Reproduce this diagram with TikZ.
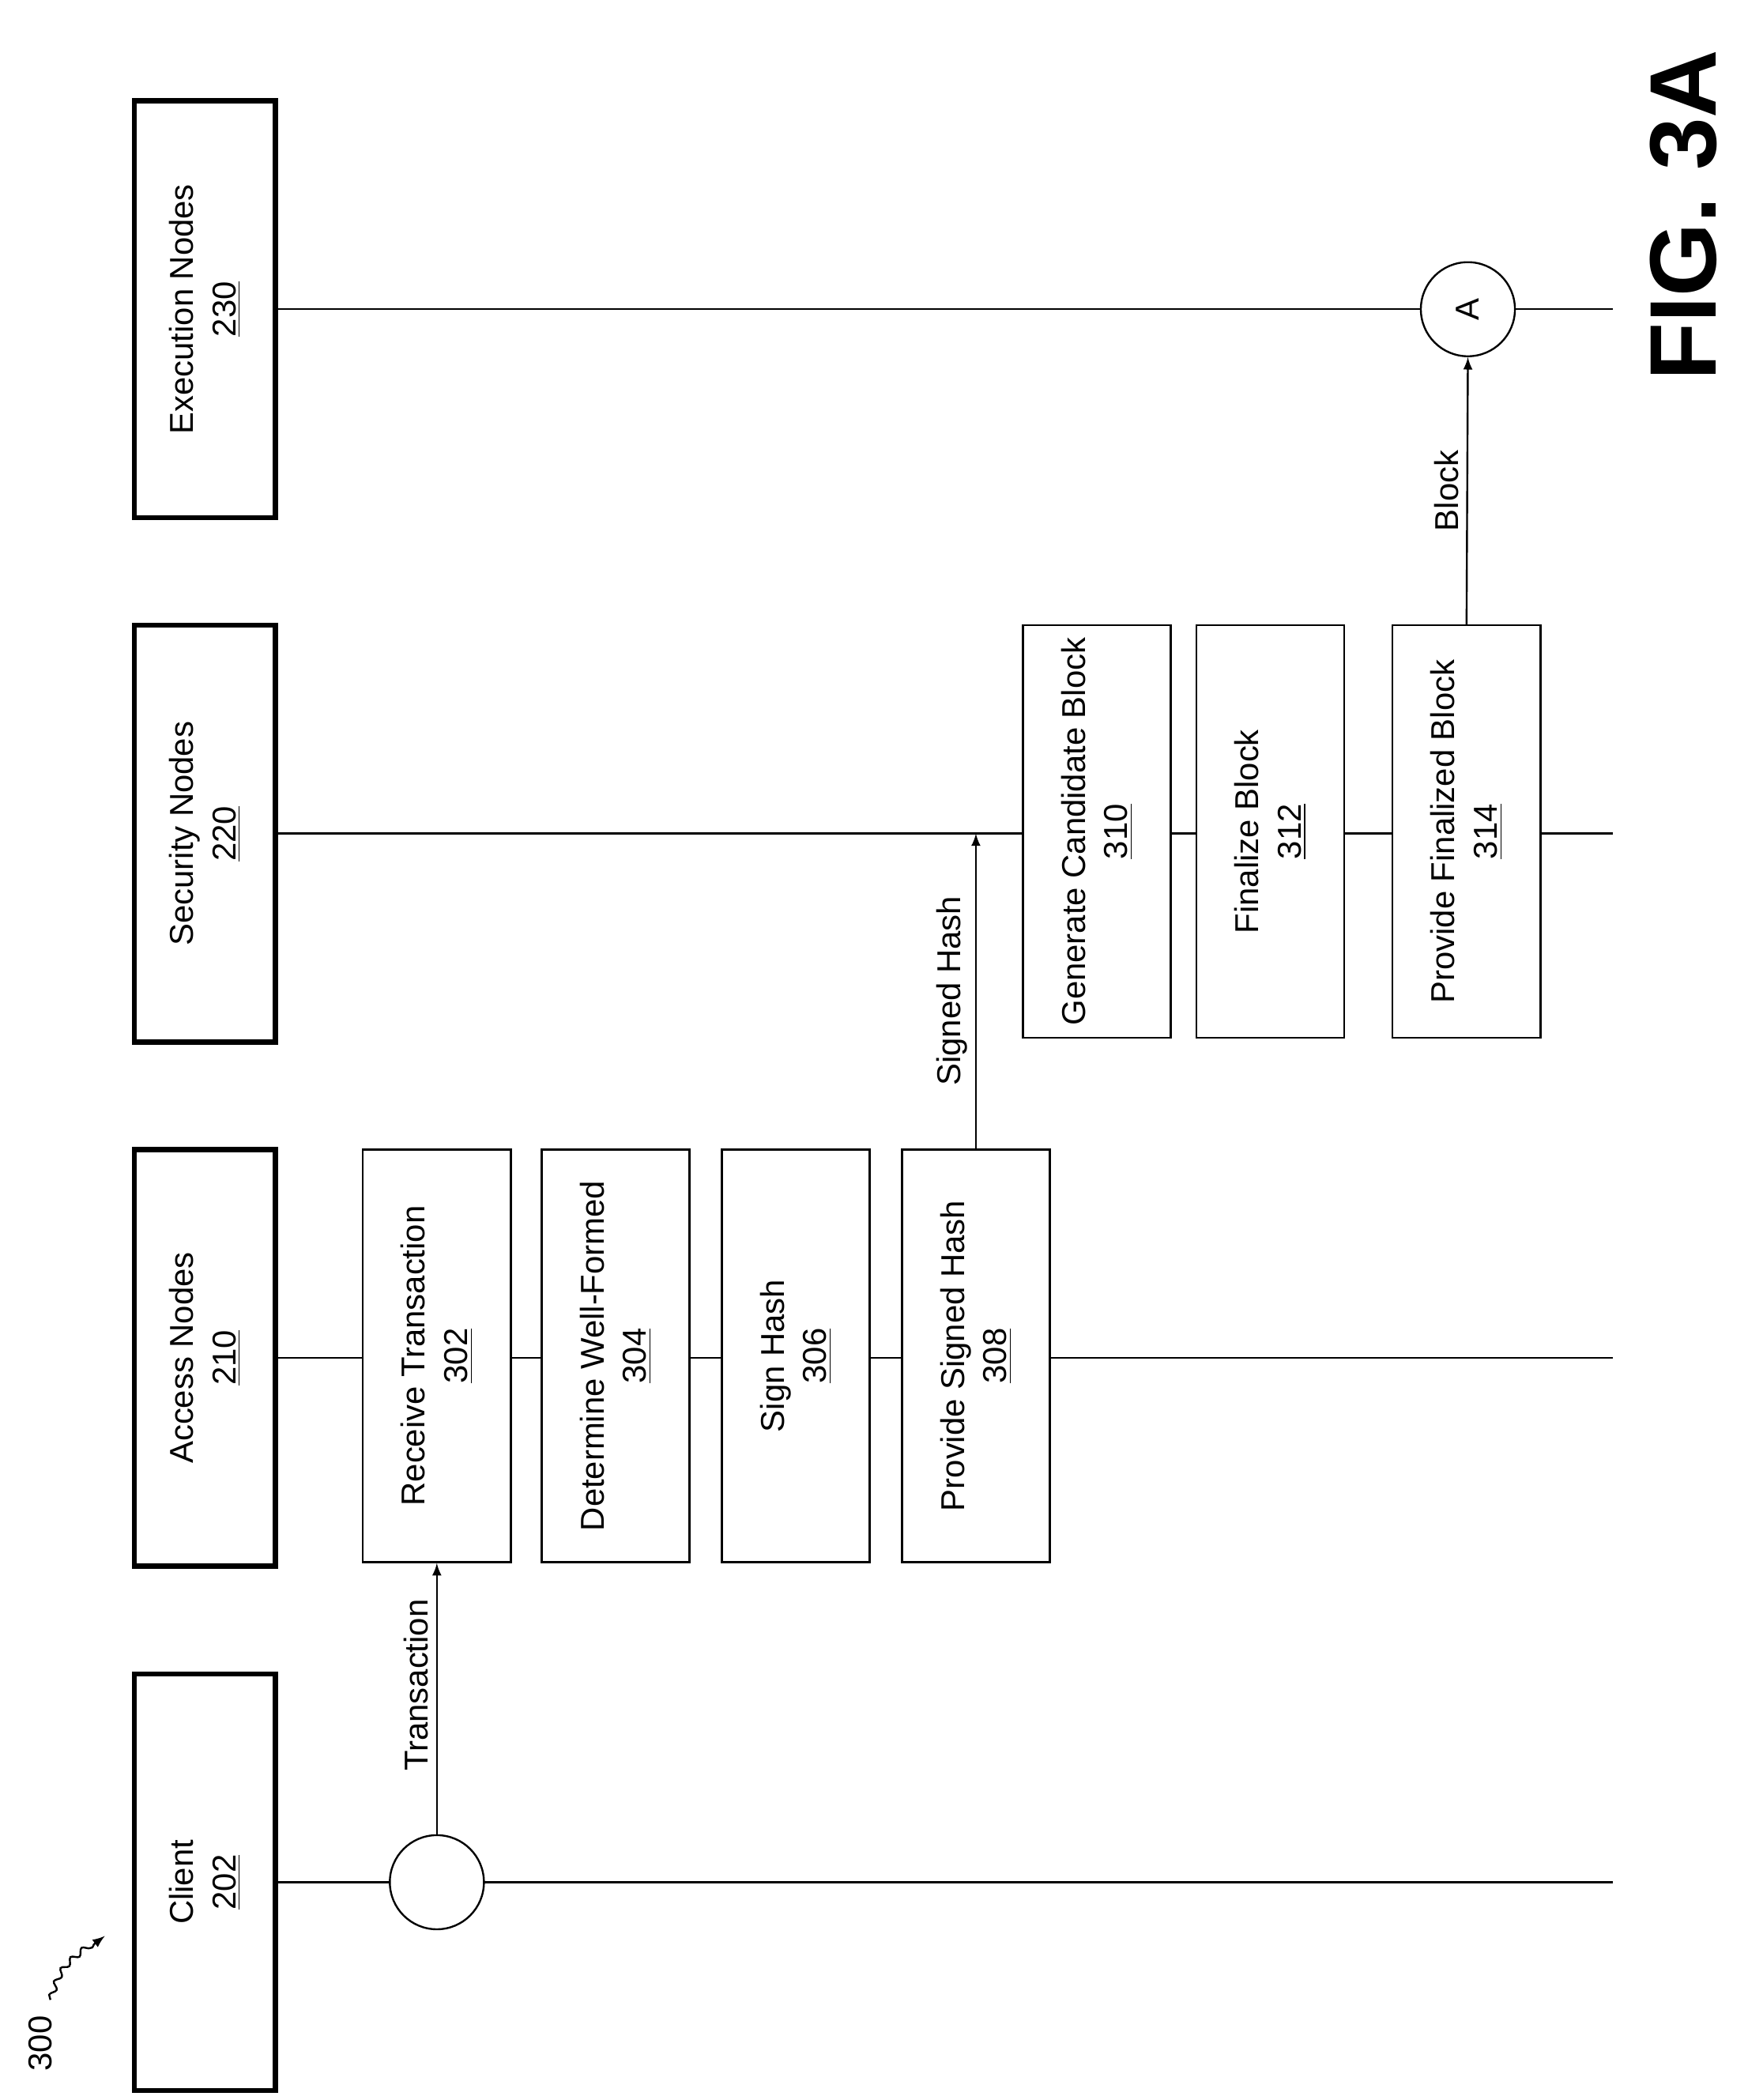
\documentclass[tikz,border=0pt]{standalone}
\usepackage{fontspec}
\setmainfont{Liberation Sans}
\usetikzlibrary{decorations.pathmorphing}
\tikzset{
  head/.style={draw, fill=white, line width=2.2pt, rotate=90, minimum width=6.2cm, minimum height=2.1cm, align=center, font=\fontsize{14}{18}\selectfont},
  task/.style={draw, fill=white, line width=0.8pt, rotate=90, minimum width=6.14cm, minimum height=2.2cm, align=center, font=\fontsize{14}{18}\selectfont},
  life/.style={line width=0.8pt},
  msg/.style={line width=0.8pt, -latex},
  lbl/.style={rotate=90, font=\fontsize{14}{18}\selectfont}
}
\begin{document}
\begin{tikzpicture}
	\useasboundingbox (0,0) rectangle (26,-31.24);
	\coordinate (clientend) at (24,-28.0);
	\coordinate (accessend) at (24,-20.2);
	\coordinate (securityend) at (24,-12.4);
	\coordinate (executionend) at (24,-4.6);
	\foreach \n/\y in {client/-28.0,access/-20.2,security/-12.4,execution/-4.6} \draw[life] (4.1,\y) -- (\n end);
	\node[head] (client) at (3.05,-28.0) {Client\\\underline{202}};
	\node[head] (access) at (3.05,-20.2) {Access Nodes\\\underline{210}};
	\node[head] (security) at (3.05,-12.4) {Security Nodes\\\underline{220}};
	\node[head] (execution) at (3.05,-4.6) {Execution Nodes\\\underline{230}};
	\node[task] (s302) at (6.5,-20.17) {Receive Transaction\\\underline{302}};
	\node[task] (s304) at (9.16,-20.17) {Determine Well-Formed\\\underline{304}};
	\node[task] (s306) at (11.84,-20.17) {Sign Hash\\\underline{306}};
	\node[task] (s308) at (14.52,-20.17) {Provide Signed Hash\\\underline{308}};
	\node[task] (s310) at (16.32,-12.37) {Generate Candidate Block\\\underline{310}};
	\node[task] (s312) at (18.9,-12.37) {Finalize Block\\\underline{312}};
	\node[task] (s314) at (21.82,-12.37) {Provide Finalized Block\\\underline{314}};
	\node[draw, fill=white, line width=0.8pt, circle, minimum size=1.4cm] (start) at (6.5,-28.0) {};
	\node[draw, fill=white, line width=0.8pt, circle, minimum size=1.4cm, font=\fontsize{14}{18}\selectfont] (conA) at (21.84,-4.6) {\rotatebox{90}{A}};
	\coordinate (hashin) at (14.52,-12.4);
	\draw[msg] (start.north) -- (s302.west) node[lbl, anchor=south, pos=0.55] {Transaction};
	\draw[msg] (s308.east) -- (hashin) node[lbl, anchor=south, pos=0.5] {Signed Hash};
	\draw[msg] (s314.east) -- (conA.south) node[lbl, anchor=south, pos=0.5] {Block};
	% figure number and reference
	\node[lbl] (ref) at (0.6,-30.4) {300};
	\coordinate (refend) at (1.56,-28.8);
	\draw[-latex, line width=0.8pt, decorate, decoration={snake, amplitude=1.2pt, segment length=6pt, post length=3pt}] (0.75,-29.75) .. controls (0.9,-29.3) .. (refend);
	\node[lbl, font=\fontsize{40}{46}\selectfont\bfseries] (fig) at (25.05,-3.2) {FIG. 3A};
\end{tikzpicture}
\end{document}
